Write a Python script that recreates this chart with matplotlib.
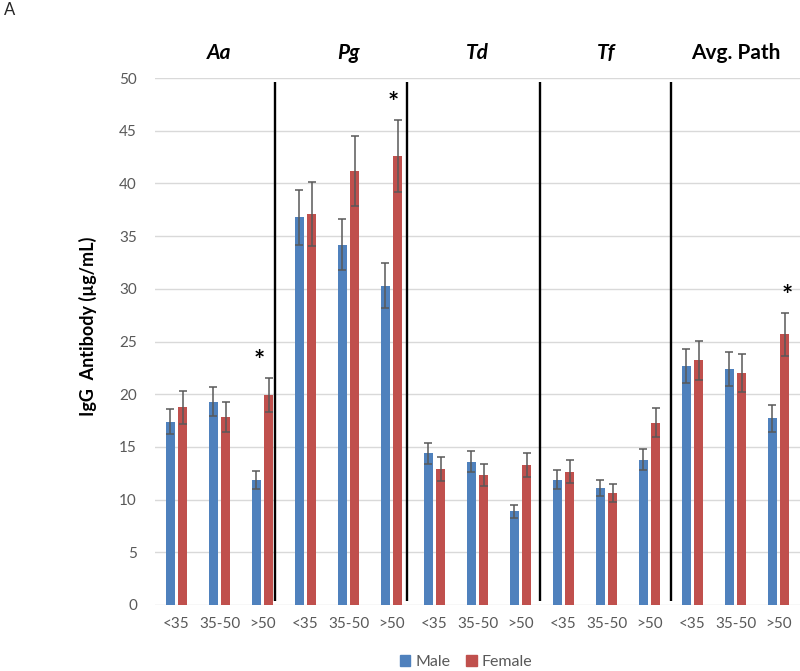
import matplotlib
matplotlib.use('Agg')
import matplotlib.pyplot as plt
from matplotlib.patches import Patch
import numpy as np

plt.rcParams['font.family'] = ['Lato', 'DejaVu Sans']

panels = ['Aa', 'Pg', 'Td', 'Tf', 'Avg. Path']
panel_italic = [True, True, True, True, False]
ages = ['<35', '35-50', '>50']
male = [17.4, 19.3, 11.9, 36.8, 34.2, 30.3, 14.4, 13.6, 8.9, 11.9, 11.1, 13.8, 22.7, 22.4, 17.7]
male_err = [1.2, 1.4, 0.85, 2.6, 2.45, 2.15, 1.0, 1.0, 0.6, 0.9, 0.8, 1.0, 1.6, 1.6, 1.25]
female = [18.75, 17.85, 19.95, 37.1, 41.15, 42.6, 12.9, 12.3, 13.3, 12.65, 10.65, 17.3, 23.2, 22.0, 25.7]
female_err = [1.6, 1.45, 1.6, 3.0, 3.3, 3.45, 1.1, 1.05, 1.15, 1.1, 0.85, 1.35, 1.85, 1.8, 2.05]
sig_groups = [2, 5, 14]
sig_xoff = [-0.07, 0.04, 0.2]

BLUE = '#4F81BD'
RED = '#C0504D'
GRAY = '#595959'

fig = plt.figure(figsize=(8, 6.71), dpi=100)
ax = fig.add_axes([155/800, 1 - 605/671, 645/800, (605 - 78)/671])

n = len(male)
x = np.arange(n)
w = 0.216
off = 0.145
ekw = dict(ecolor=GRAY, elinewidth=1.1, capsize=3.2, capthick=1.1)
ax.bar(x - off, male, w, color=BLUE, yerr=male_err, error_kw=ekw, zorder=3)
ax.bar(x + off, female, w, color=RED, yerr=female_err, error_kw=ekw, zorder=3)

ax.set_xlim(-0.5, n - 0.5)
ax.set_ylim(0, 50)
ax.set_yticks(np.arange(0, 51, 5))
ax.set_xticks(x)
ax.set_xticklabels(ages * len(panels))
ax.tick_params(axis='both', length=0, labelsize=11, labelcolor=GRAY)
ax.tick_params(axis='x', pad=9)
ax.tick_params(axis='y', pad=13)
for s in ax.spines.values():
    s.set_visible(False)
ax.yaxis.grid(True, color='#D9D9D9', lw=1, zorder=0)
ax.set_axisbelow(True)

# separators
sep_x = [2.28, 5.36, 8.46, 11.5]
for sx in sep_x:
    ax.plot([sx, sx], [0.4, 49.6], color='black', lw=1.7, zorder=4, solid_capstyle='butt')

# panel titles
for i, (p, it) in enumerate(zip(panels, panel_italic)):
    ax.text(3 * i + 1, 1 + 25/527, p, transform=ax.get_xaxis_transform(),
            ha='center', va='center', fontsize=15, fontweight='bold',
            fontstyle='italic' if it else 'normal', color='black')

# significance asterisks
for g, dx in zip(sig_groups, sig_xoff):
    ax.text(g + dx, female[g] + female_err[g] + 1.6, '*', ha='center', va='center',
            fontsize=19, fontweight='bold', color='black', zorder=5)

fig.text(88/800, 1 - 326/671, 'IgG  Antibody (µg/mL)', rotation=90, ha='center', va='center',
         fontsize=13, fontweight='bold', color='black')
fig.text(4/800, 1 - 10/671, 'A', ha='left', va='center', fontsize=12, color='#262626')

handles = [Patch(color=BLUE, label='Male'), Patch(color=RED, label='Female')]
fig.legend(handles=handles, loc='center', bbox_to_anchor=(466/800, 1 - 662/671), ncol=2,
           frameon=False, fontsize=11.5, labelcolor=GRAY, handlelength=0.65, handleheight=0.65,
           handletextpad=0.3, columnspacing=1.0)

fig.savefig('out.png', dpi=100)
